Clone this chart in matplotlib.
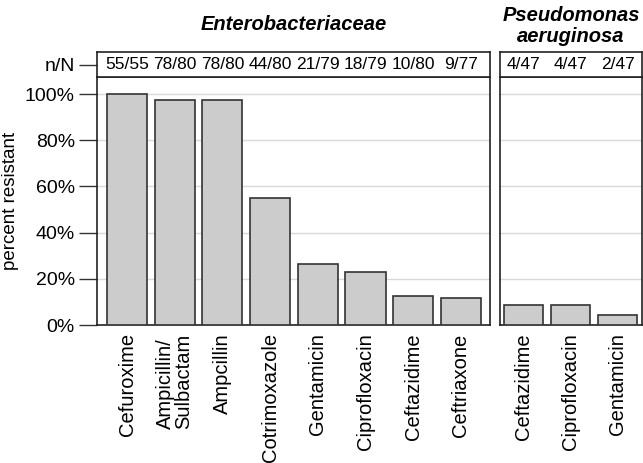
import numpy as np
import matplotlib
matplotlib.use("Agg")
import matplotlib.pyplot as plt

plt.rcParams['font.family'] = ['Liberation Sans', 'DejaVu Sans']

# Enterobacteriaceae
ent_drugs = ["Cefuroxime", "Ampicillin/\nSulbactam", "Ampcillin", "Cotrimoxazole",
             "Gentamicin", "Ciprofloxacin", "Ceftazidime", "Ceftriaxone"]
ent_n = [55, 78, 78, 44, 21, 18, 10, 9]
ent_N = [55, 80, 80, 80, 79, 79, 80, 77]

# Pseudomonas aeruginosa
pa_drugs = ["Ceftazidime", "Ciprofloxacin", "Gentamicin"]
pa_n = [4, 4, 2]
pa_N = [47, 47, 47]

yticks = [0, 20, 40, 60, 80, 100]

fig = plt.figure(figsize=(6.43, 4.63), dpi=100)

W, H = 643, 463
def box(x0, x1, y0, y1):
    # pixel coords (top-left origin) -> figure fraction
    return [x0 / W, 1 - y1 / H, (x1 - x0) / W, (y1 - y0) / H]

ax1 = fig.add_axes(box(97, 490, 77, 325))
ax2 = fig.add_axes(box(500, 642, 77, 325))
hd1 = fig.add_axes(box(97, 490, 52, 77))
hd2 = fig.add_axes(box(500, 642, 52, 77))

bar_kw = dict(color="#cccccc", edgecolor="#333333", linewidth=1.2, zorder=3)

def panel(ax, hd, drugs, n, N, xlim, width, show_y):
    pct = np.array(n) / np.array(N) * 100
    x = np.arange(len(drugs))
    ax.bar(x, pct, width, **bar_kw)
    ax.set_xlim(*xlim)
    ax.set_ylim(0, 107.4)
    ax.set_yticks(yticks)
    ax.yaxis.grid(True, color="#d9d9d9", linewidth=1, zorder=0)
    ax.set_xticks(x)
    ax.set_xticklabels(drugs, rotation=90, fontsize=14.5, va="top", ha="center",
                       multialignment="left", linespacing=0.95)
    ax.tick_params(axis="x", length=0, pad=6)
    if show_y:
        ax.set_yticklabels([f"{t}%" for t in yticks], fontsize=14)
        ax.tick_params(axis="y", length=13, width=1, color="#333333", pad=3)
        ax.set_ylabel("percent resistant", fontsize=13.5, va="center")
        ax.yaxis.set_label_coords(-0.219, 0.5)
    else:
        ax.tick_params(axis="y", left=False, labelleft=False)
    for s in ax.spines.values():
        s.set_linewidth(1.2)
        s.set_color("#222222")

    hd.set_xlim(*xlim)
    hd.set_ylim(0, 1)
    hd.set_xticks([])
    for xi, a, b in zip(x, n, N):
        hd.text(xi, 0.5, f"{a}/{b}", ha="center", va="center", fontsize=12.5)
    if show_y:
        hd.set_yticks([0.5])
        hd.set_yticklabels(["n/N"], fontsize=14)
        hd.tick_params(axis="y", length=13, width=1, color="#333333", pad=3)
    else:
        hd.set_yticks([])
    for s in hd.spines.values():
        s.set_linewidth(1.2)
        s.set_color("#222222")

panel(ax1, hd1, ent_drugs, ent_n, ent_N, (-0.63, 7.61), 0.84, True)
panel(ax2, hd2, pa_drugs, pa_n, pa_N, (-0.51, 2.52), 0.83, False)

fig.text((97 + 490) / 2 / W, 1 - 24 / H, "Enterobacteriaceae", ha="center", va="center",
         fontsize=14.5, fontweight="bold", fontstyle="italic")
fig.text((500 + 642) / 2 / W, 1 - 26 / H, "Pseudomonas\naeruginosa", ha="center", va="center",
         fontsize=14.5, fontweight="bold", fontstyle="italic", linespacing=1.15)

fig.savefig("out.png", dpi=100)
